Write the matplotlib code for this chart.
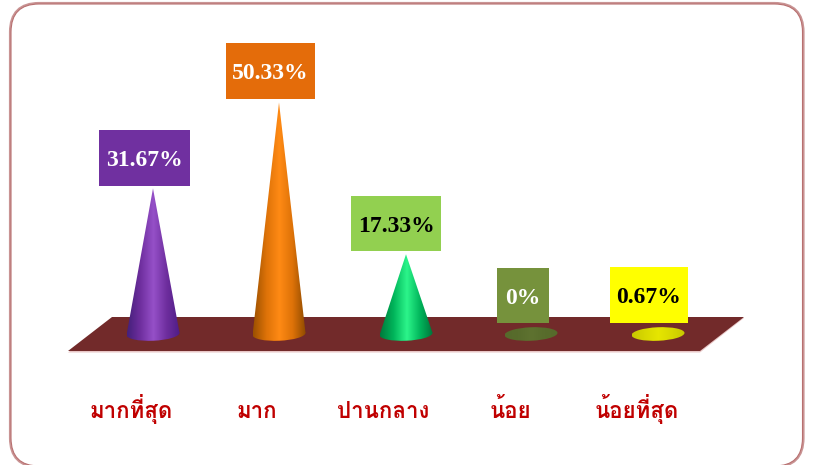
"""Thai survey result chart: cones standing on a maroon floor, inside a rounded frame."""
import matplotlib

matplotlib.use("Agg")
import matplotlib.pyplot as plt
import numpy as np
from matplotlib.colors import LinearSegmentedColormap
from matplotlib.patches import Ellipse, FancyBboxPatch, Polygon, Rectangle

categories = ["มากที่สุด", "มาก", "ปานกลาง", "น้อย", "น้อยที่สุด"]
values = [31.67, 50.33, 17.33, 0, 0.67]
value_labels = ["31.67%", "50.33%", "17.33%", "0%", "0.67%"]

box_colors = ["#7030A0", "#E46C0A", "#92D050", "#76923C", "#FFFF00"]
label_colors = ["white", "white", "black", "white", "black"]
cone_colors = [
    ["#44207A", "#6E2E9E", "#9650C8", "#6E2E9E", "#4E1C86"],
    ["#9A5000", "#DD7208", "#FF8A14", "#DD7208", "#8E4A00"],
    ["#007A3C", "#00B45A", "#2CF58A", "#00B45A", "#006E38"],
    ["#566A2B", "#586C2C", "#5E7230", "#586C2C", "#566A2B"],
    ["#C8C800", "#D8D800", "#E6E600", "#D8D800", "#C8C800"],
]

# pixel layout
cone_x = [153, 279, 406, 531, 658]
label_x = [131, 257, 383, 510, 637]
boxes = [(99, 130, 91, 56), (226, 43, 89, 56), (351, 196, 90, 55), (497, 268, 52, 55), (610, 267, 78, 56)]
base_y = 334
px_per_pct = 4.6
half_w = 26.5

plt.rcParams["font.family"] = ["Liberation Serif", "DejaVu Serif"]
fig = plt.figure(figsize=(8.13, 4.65), dpi=100)
ax = fig.add_axes([0, 0, 1, 1])
ax.set_xlim(0, 813)
ax.set_ylim(465, 0)
ax.axis("off")

# frame: wide pale line with a thin darker core (filled, agg clips unfilled paths badly at the edge)
for lw, col in [(3.0, "#C99494"), (0.8, "#B87070")]:
    ax.add_patch(FancyBboxPatch((39, 32), 735.5, 406, boxstyle="round,pad=28,rounding_size=28",
                                fc="white", ec=col, lw=lw, zorder=1))

# floor
ax.add_patch(Polygon([(68, 352.5), (700, 352.5), (744, 318), (112, 318)], fc="#E8C6C6", ec="none", zorder=2))
ax.add_patch(Polygon([(68, 351), (700, 351), (744, 317), (112, 317)], fc="#722A2A", ec="none", zorder=3))

for x, val, colors in zip(cone_x, values, cone_colors):
    cmap = LinearSegmentedColormap.from_list("cone", colors)
    grad = np.linspace(0, 1, 256).reshape(1, -1)
    apex = base_y - val * px_per_pct
    extent = (x - half_w, x + half_w, 345, min(apex, base_y - 10))
    ell = Ellipse((x, base_y), 2 * half_w, 13.5, angle=-2.5, transform=ax.transData)
    tri = Polygon([(x - half_w, base_y + 1.2), (x, apex), (x + half_w, base_y - 1.2)],
                  transform=ax.transData)
    for clip in (ell, tri):
        im = ax.imshow(grad, cmap=cmap, extent=extent, aspect="auto", interpolation="bilinear", zorder=4)
        im.set_clip_path(clip)
ax.set_xlim(0, 813)
ax.set_ylim(465, 0)

for (bx, by, bw, bh), col, txt, tcol in zip(boxes, box_colors, value_labels, label_colors):
    ax.add_patch(Rectangle((bx, by), bw, bh, fc=col, ec="none", zorder=5))
    ax.text(bx + bw / 2, by + bh / 2 + 2.5, txt, color=tcol, fontsize=17, fontweight="bold",
            ha="center", va="center", zorder=6)

for x, cat in zip(label_x, categories):
    ax.text(x, 418, cat, color="#C00000", fontsize=16, fontweight="bold", ha="center",
            va="baseline", family=["Loma", "Trirong", "DejaVu Sans"], zorder=6)

fig.savefig("out.png", dpi=100)
plt.close(fig)
